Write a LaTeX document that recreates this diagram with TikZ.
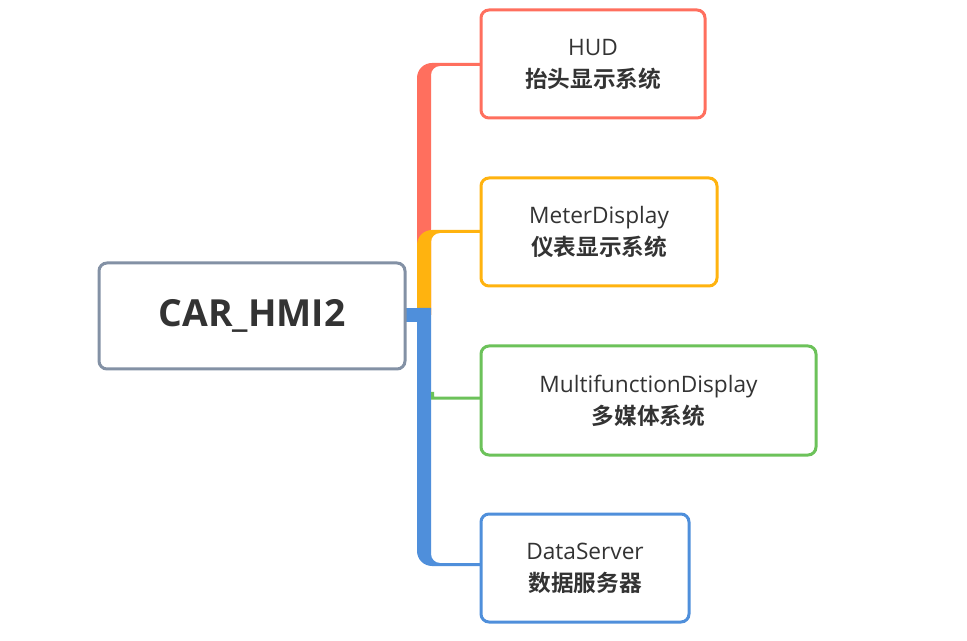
\documentclass[tikz,border=0pt]{standalone}
\usepackage{fontspec}
\setmainfont{Open Sans}
\newfontfamily\cjk{Noto Sans CJK SC}[BoldFont={* Bold}]
\definecolor{cr}{HTML}{FF6F5E}
\definecolor{co}{HTML}{FFB30F}
\definecolor{cg}{HTML}{6CC25A}
\definecolor{cb}{HTML}{4F8FDB}
\definecolor{cgray}{HTML}{8391A5}
\definecolor{tx}{HTML}{333333}
\tikzset{box/.style={draw=#1,line width=2.25pt,rounded corners=6pt,fill=white,text=tx,align=center,font=\fontsize{17}{24}\selectfont,inner sep=0pt}}
\begin{document}
\begin{tikzpicture}[x=0.75pt,y=-0.75pt]
\fill[white] (0,0) rectangle (967,641);
\useasboundingbox (0,0) rectangle (967,641);
% red branch
\fill[cr] (417,315) -- (417,78) arc[start angle=180,end angle=270,radius=15] -- (481,63) -- (481,66) -- (440,66) arc[start angle=270,end angle=180,radius=9] -- (431,315) -- cycle;
% orange branch
\fill[co] (417,315) -- (417,245) arc[start angle=180,end angle=270,radius=15] -- (481,230) -- (481,233) -- (440,233) arc[start angle=270,end angle=180,radius=9] -- (431,315) -- cycle;
% blue branch
\fill[cb] (417,308) -- (417,551) arc[start angle=180,end angle=90,radius=15] -- (481,566) -- (481,563) -- (440,563) arc[start angle=90,end angle=180,radius=9] -- (431,308) -- cycle;
\fill[cb] (403,308) rectangle (420,322);
% green
\fill[cg] (431,392) -- (431,399.5) -- (481,399.5) -- (481,396.5) -- (434,396.5) -- (434,392) -- cycle;
\node[box=cr,minimum width=224*0.75pt,minimum height=108*0.75pt] (hud) at (593,64) {HUD\\{\cjk\bfseries 抬头显示系统}};
\node[box=co,minimum width=236*0.75pt,minimum height=108*0.75pt] (md) at (599,232) {MeterDisplay\\{\cjk\bfseries 仪表显示系统}};
\node[box=cg,minimum width=335*0.75pt,minimum height=109*0.75pt] (mf) at (648.5,400.5) {MultifunctionDisplay\\{\cjk\bfseries 多媒体系统}};
\node[box=cb,minimum width=208*0.75pt,minimum height=108*0.75pt] (ds) at (585,568) {DataServer\\{\cjk\bfseries 数据服务器}};
\node[box=cgray,minimum width=306*0.75pt,minimum height=106*0.75pt,font=\fontsize{28}{32}\selectfont\bfseries] (car) at (252,316) {CAR\_HMI2};
\end{tikzpicture}
\end{document}
